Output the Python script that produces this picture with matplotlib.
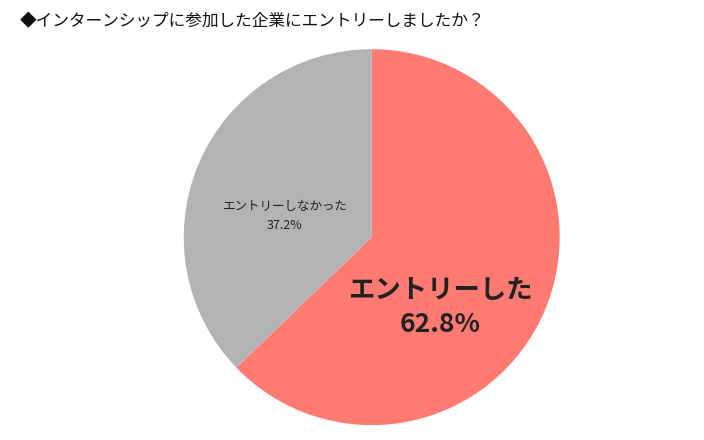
import matplotlib
matplotlib.use("Agg")
import matplotlib.pyplot as plt

labels = ["エントリーした", "エントリーしなかった"]
values = [62.8, 37.2]
colors = ["#FF7B72", "#B3B3B5"]
title = "◆インターンシップに参加した企業にエントリーしましたか？"

plt.rcParams["font.family"] = "Noto Sans CJK JP"
fig = plt.figure(figsize=(7.04, 4.40), dpi=100)
ax = fig.add_axes([0.528 - 0.267, 0.461 - 0.4275, 0.534, 0.855])
ax.pie(values, colors=colors, startangle=90, counterclock=False,
       wedgeprops=dict(linewidth=0))
ax.set_xlim(-1, 1)
ax.set_ylim(-1, 1)
ax.set_aspect("equal")
ax.axis("off")
fig.text(20/704, 1-22/440, title, fontsize=12, va="center", ha="left", color="#111111")
fig.text(440/704, 1-290/440, labels[0], fontsize=19, fontweight="bold", ha="center", va="center", color="#222222")
fig.text(440/704, 1-324/440, f"{values[0]}%", fontsize=19, fontweight="bold", ha="center", va="center", color="#222222")
fig.text(285/704, 1-206/440, labels[1], fontsize=9, ha="center", va="center", color="#222222")
fig.text(285/704, 1-225/440, f"{values[1]}%", fontsize=9, ha="center", va="center", color="#222222")
fig.savefig("out.png", dpi=100)
